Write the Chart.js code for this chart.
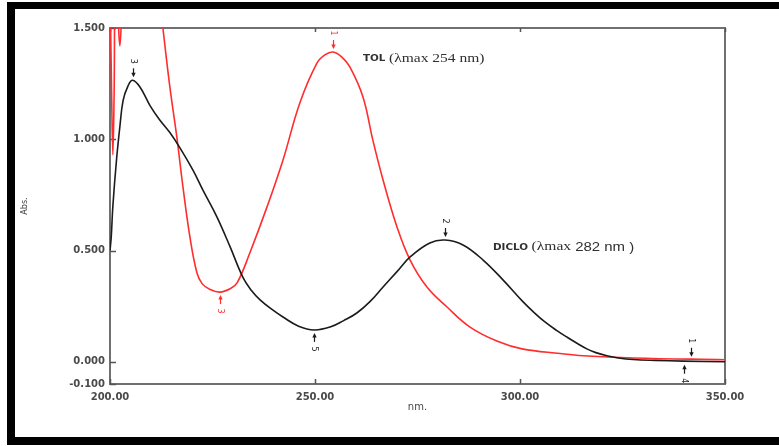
<!DOCTYPE html>
<html>
<head>
<meta charset="utf-8">
<script src="https://cdn.jsdelivr.net/npm/chart.js@4.4.1/dist/chart.umd.min.js"></script>
<style>
  html, body { margin: 0; padding: 0; background: #ffffff; }
  #wrap { width: 779px; height: 446px; }
</style>
</head>
<body>
<div id="wrap"><canvas id="c" width="779" height="446"></canvas></div>
<script>
// ---- Data ----
const xTicks = [200, 250, 300, 350];
const yTicks = [1.5, 1.0, 0.5, 0.0, -0.1];

// DICLO (black)
const dicloNm = [200.0, 200.3, 200.7, 201.6, 202.4, 203.2, 204.4, 205.5, 207.3, 209.8, 212.0, 214.6, 217.1, 220.2, 222.7, 226.1, 229.3, 232.4, 234.5, 236.6, 239.5, 242.2, 246.0, 249.8, 253.7, 257.0, 260.2, 263.4, 266.6, 270.0, 273.2, 278.0, 281.7, 286.1, 291.0, 295.9, 300.7, 303.5, 306.0, 309.0, 311.5, 314.0, 316.3, 318.5, 321.2, 324.0, 327.6, 333.0, 339.8, 350.0];
const dicloAbs = [0.50, 0.56, 0.70, 0.91, 1.055, 1.175, 1.24, 1.265, 1.235, 1.15, 1.09, 1.03, 0.96, 0.862, 0.77, 0.65, 0.516, 0.38, 0.32, 0.278, 0.235, 0.201, 0.16, 0.143, 0.156, 0.185, 0.219, 0.27, 0.336, 0.405, 0.471, 0.534, 0.547, 0.525, 0.457, 0.367, 0.27, 0.22, 0.18, 0.14, 0.11, 0.082, 0.058, 0.041, 0.027, 0.017, 0.010, 0.006, 0.003, 0.0];

// TOL (red)
const tolNm = [200.0, 200.4, 200.7, 201.0, 201.3, 201.8, 202.1, 202.4, 202.7, 203.0, 205.0, 208.0, 211.0, 212.9, 214.6, 216.3, 217.8, 219.5, 221.2, 222.5, 224.4, 226.8, 229.3, 231.0, 234.1, 238.3, 242.2, 246.3, 250.5, 252.5, 254.4, 256.5, 258.5, 261.7, 264.1, 266.6, 270.0, 273.2, 277.3, 282.2, 287.8, 294.5, 300.5, 309.8, 315.4, 327.6, 350.0];
const tolAbs = [1.7, 1.2, 0.93, 1.2, 1.7, 1.7, 1.5, 1.42, 1.5, 1.7, 1.9, 2.0, 1.8, 1.5, 1.235, 1.01, 0.785, 0.56, 0.40, 0.35, 0.325, 0.313, 0.328, 0.354, 0.489, 0.696, 0.907, 1.163, 1.343, 1.38, 1.392, 1.37, 1.325, 1.19, 0.997, 0.817, 0.606, 0.457, 0.336, 0.246, 0.156, 0.092, 0.058, 0.037, 0.027, 0.017, 0.009];

// Peak pick markers: label, wavelength, absorbance, side, series
const markLabels = ['3', '2', '5', '1', '4', '1', '3'];
const markNm     = [205.5, 281.7, 249.8, 341.6, 339.9, 254.4, 226.8];
const markAbs    = [1.265, 0.547, 0.143, 0.009, 0.0, 1.392, 0.313];
const markSide   = ['up', 'up', 'down', 'up', 'down', 'up', 'down'];
const markSeries = ['DICLO', 'DICLO', 'DICLO', 'DICLO', 'DICLO', 'TOL', 'TOL'];

// Text annotations
const noteNames = ['TOL', 'DICLO'];
const noteTexts = ['(λmax 254 nm)', '(λmax 282 nm )'];
const noteNm    = [261.7, 293.4];
const noteAbs   = [1.365, 0.516];

const COLORS = { DICLO: '#1b1b1b', TOL: '#ff2d2d' };

const framePlugin = {
  id: 'frame',
  beforeDraw(chart) {
    const c = chart.ctx;
    c.save();
    c.fillStyle = '#ffffff';
    c.fillRect(0, 0, chart.width, chart.height);
    c.restore();
  },
  beforeDatasetsDraw(chart) {
    const c = chart.ctx;
    const a = chart.chartArea;
    const xs = chart.scales.x, ys = chart.scales.y;
    c.save();
    c.strokeStyle = '#707070';
    c.lineWidth = 2;
    c.strokeRect(a.left, a.top, a.right - a.left, a.bottom - a.top);
    c.lineWidth = 1.5;
    c.strokeStyle = '#555555';
    c.beginPath();
    yTicks.forEach(v => {
      const py = Math.round(ys.getPixelForValue(v)) + 0.5;
      c.moveTo(a.left, py); c.lineTo(a.left + 6, py);
    });
    xTicks.forEach(v => {
      const px = Math.round(xs.getPixelForValue(v)) + 0.5;
      c.moveTo(px, a.bottom); c.lineTo(px, a.bottom - 5);
      c.moveTo(px, a.top); c.lineTo(px, a.top + 4);
    });
    c.stroke();
    c.restore();
  },
  afterDatasetsDraw(chart) {
    const c = chart.ctx;
    const xs = chart.scales.x, ys = chart.scales.y;
    c.save();
    // peak markers
    markLabels.forEach((lab, i) => {
      const px = Math.round(xs.getPixelForValue(markNm[i])) + 0.5;
      const py = ys.getPixelForValue(markAbs[i]);
      const dir = markSide[i] === 'up' ? -1 : 1;
      const col = COLORS[markSeries[i]];
      const tip = py + dir * 3;
      const tail = py + dir * 12;
      c.strokeStyle = col; c.fillStyle = col; c.lineWidth = 1.2;
      c.beginPath(); c.moveTo(px, tail); c.lineTo(px, tip + dir * 3); c.stroke();
      c.beginPath();
      c.moveTo(px, tip);
      c.lineTo(px - 2.2, tip + dir * 4.5);
      c.lineTo(px + 2.2, tip + dir * 4.5);
      c.closePath(); c.fill();
      c.save();
      c.translate(px, py + dir * 19);
      c.rotate(Math.PI / 2);
      c.font = '8px "DejaVu Sans"';
      c.textAlign = 'center'; c.textBaseline = 'middle';
      c.fillText(lab, 0, 0);
      c.restore();
    });
    // text notes
    noteNames.forEach((name, i) => {
      const px = xs.getPixelForValue(noteNm[i]);
      const py = ys.getPixelForValue(noteAbs[i]);
      c.save();
      c.translate(px, py);
      c.scale(1.15, 1);
      c.textBaseline = 'middle'; c.textAlign = 'left';
      c.fillStyle = '#303030';
      let cx = 0;
      c.font = 'bold 9px "DejaVu Sans"';
      c.fillText(name + ' ', cx, 0.5);
      cx += c.measureText(name + ' ').width;
      if (name === 'TOL') {
        c.font = '13.5px "Liberation Serif"';
        c.fillText(noteTexts[i], cx, 0);
      } else {
        const t = noteTexts[i];
        const a1 = t.slice(0, 5), a2 = t.slice(5);
        c.font = '13.5px "Liberation Serif"';
        c.fillText(a1, cx, 0);
        cx += c.measureText(a1).width;
        c.font = '13px "Liberation Sans"';
        c.fillText(a2, cx, 0);
      }
      c.restore();
    });
    c.restore();
  },
  afterDraw(chart) {
    const c = chart.ctx;
    c.save();
    c.fillStyle = '#000000';
    c.fillRect(7, 2, 772, 7);
    c.fillRect(7, 2, 8, 443);
    c.fillRect(7, 437, 772, 8);
    c.restore();
  }
};

const tickFont = { family: 'DejaVu Sans', size: 10, weight: 'bold' };

new Chart(document.getElementById('c'), {
  type: 'line',
  data: {
    datasets: [
      {
        label: 'DICLO',
        data: dicloNm.map((x, i) => ({ x, y: dicloAbs[i] })),
        borderColor: COLORS.DICLO,
        borderWidth: 1.6,
        pointRadius: 0,
        tension: 0.4,
        clip: 0
      },
      {
        label: 'TOL',
        data: tolNm.map((x, i) => ({ x, y: tolAbs[i] })),
        borderColor: COLORS.TOL,
        borderWidth: 1.6,
        pointRadius: 0,
        tension: 0.4,
        clip: 0
      }
    ]
  },
  options: {
    responsive: false,
    animation: false,
    devicePixelRatio: 1,
    layout: { padding: { top: 28, right: 54, bottom: 0, left: 0 } },
    plugins: { legend: { display: false }, tooltip: { enabled: false } },
    scales: {
      x: {
        type: 'linear', min: 200, max: 350,
        afterBuildTicks: s => { s.ticks = xTicks.map(v => ({ value: v })); },
        afterFit: s => { s.height = 62; },
        ticks: { callback: v => Number(v).toFixed(2), font: tickFont, color: '#4a4a4a', padding: 7, maxRotation: 0, autoSkip: false },
        grid: { display: false, drawTicks: false },
        border: { display: false },
        title: { display: true, text: 'nm.', font: { family: 'DejaVu Sans', size: 10 }, color: '#444444', padding: { top: 0, bottom: 33 } }
      },
      y: {
        type: 'linear', min: -0.1, max: 1.5,
        afterBuildTicks: s => { s.ticks = yTicks.map(v => ({ value: v })); },
        afterFit: s => { s.width = 110; },
        ticks: { callback: v => Number(v).toFixed(3), font: tickFont, color: '#4a4a4a', padding: 5, autoSkip: false },
        grid: { display: false, drawTicks: false },
        border: { display: false },
        title: { display: true, text: 'Abs.', font: { family: 'DejaVu Sans', size: 8 }, color: '#444444', padding: { top: 20, bottom: 0 } }
      }
    }
  },
  plugins: [framePlugin]
});
</script>
</body>
</html>
